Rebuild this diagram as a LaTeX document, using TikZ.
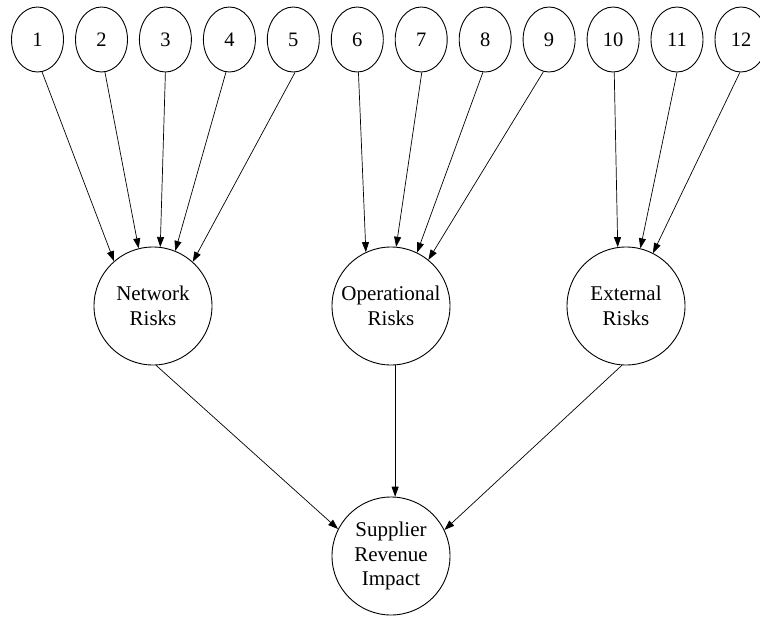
\documentclass[tikz,border=0pt]{standalone}
\usepackage{fontspec}
\setmainfont{Liberation Serif}
\usetikzlibrary{arrows.meta,shapes.geometric}
\tikzset{
  leaf/.style={draw, ellipse, line width=0.9pt, minimum width=52pt, minimum height=65pt, inner sep=0pt,
    font=\fontsize{20.5}{24}\selectfont},
  risk/.style={draw, circle, line width=0.9pt, minimum size=118pt, inner sep=0pt, align=center,
    font=\fontsize{21}{24.5}\selectfont},
  link/.style={line width=0.7pt, -{Triangle[length=10pt,width=7pt]}}
}
\begin{document}
\begin{tikzpicture}[x=1pt,y=-1pt]
\useasboundingbox (0,0) rectangle (760,616);
\node[leaf] (n1) at (37.5,39.5) {1};
\node[leaf] (n2) at (101.5,39.5) {2};
\node[leaf] (n3) at (165.4,39.5) {3};
\node[leaf] (n4) at (229.4,39.5) {4};
\node[leaf] (n5) at (293.3,39.5) {5};
\node[leaf] (n6) at (357.3,39.5) {6};
\node[leaf] (n7) at (421.2,39.5) {7};
\node[leaf] (n8) at (485.2,39.5) {8};
\node[leaf] (n9) at (549.1,39.5) {9};
\node[leaf] (n10) at (613.1,39.5) {10};
\node[leaf] (n11) at (677,39.5) {11};
\node[leaf] (n12) at (741,39.5) {12};
\node[risk] (net) at (153,306) {Network\\Risks};
\node[risk] (op) at (391,306) {Operational\\Risks};
\node[risk] (ext) at (626,306) {External\\Risks};
\node[risk] (sup) at (391,556) {Supplier\\Revenue\\Impact};
\draw[link] (n1.-82.5) -- (net.131.5);
\draw[link] (n2.-84) -- (net.104.3);
\draw[link] (n3.-90) -- (net.83.2);
\draw[link] (n4.-96) -- (net.68.7);
\draw[link] (n5.-87) -- (net.48.3);
\draw[link] (n6.-88) -- (op.115.4);
\draw[link] (n7.-89) -- (op.85.2);
\draw[link] (n8.-94.5) -- (op.64.9);
\draw[link] (n9.-100) -- (op.51.8);
\draw[link] (n10.-88) -- (ext.98.9);
\draw[link] (n11.-90) -- (ext.76);
\draw[link] (n12.-92) -- (ext.63.4);
\draw[link] (net.-87) -- (sup.153.7);
\draw[link] (op.-86) -- (sup.86);
\draw[link] (ext.-94) -- (sup.26.3);
\end{tikzpicture}
\end{document}
